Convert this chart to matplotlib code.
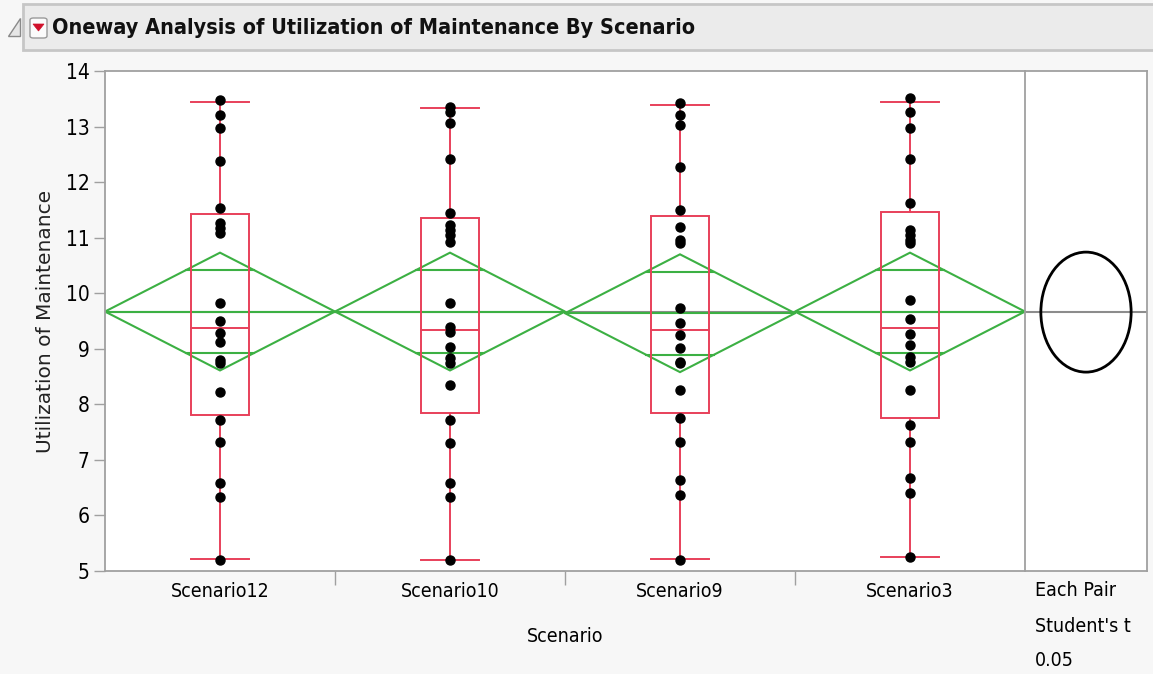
import numpy as np
import matplotlib.pyplot as plt
from matplotlib.patches import Rectangle, Ellipse, Polygon, FancyBboxPatch

# utilization values per scenario
scenarios = ['Scenario12', 'Scenario10', 'Scenario9', 'Scenario3']

util_s12 = [13.48, 13.21, 12.97, 12.38, 11.53, 11.26, 11.17, 11.08, 9.83, 9.50,
            9.28, 9.13, 8.80, 8.74, 8.23, 7.71, 7.33, 6.58, 6.34, 5.20]
util_s10 = [13.36, 13.27, 13.06, 12.42, 11.44, 11.23, 11.14, 11.05, 10.92, 9.83,
            9.40, 9.31, 9.04, 8.83, 8.74, 8.35, 7.71, 7.30, 6.58, 6.34, 5.20]
util_s9 = [13.42, 13.21, 13.03, 12.27, 11.50, 11.20, 10.96, 10.90, 9.73, 9.46,
           9.25, 9.01, 8.77, 8.74, 8.26, 7.75, 7.33, 6.64, 6.37, 5.20]
util_s3 = [13.51, 13.27, 12.97, 12.42, 11.63, 11.14, 11.05, 10.96, 10.90, 9.88,
           9.54, 9.27, 9.06, 8.86, 8.77, 8.26, 7.63, 7.33, 6.67, 6.40, 5.26]
points = [util_s12, util_s10, util_s9, util_s3]

# quantile box stats
q1 = [7.80, 7.84, 7.85, 7.75]
medians = [9.37, 9.34, 9.34, 9.37]
q3 = [11.43, 11.36, 11.39, 11.46]
whisk_lo = [5.21, 5.20, 5.21, 5.26]
whisk_hi = [13.45, 13.34, 13.38, 13.45]

# means diamonds (mean +/- 95% CI)
means = [9.67, 9.67, 9.64, 9.67]
ci_half = [1.06, 1.06, 1.06, 1.06]
grand_mean = 9.66
circle_radius = 1.08

W, H = 1153, 674
red = '#e8405a'
green = '#3cb043'
gray = '#a0a0a0'
cond = dict(family='DejaVu Sans', stretch='condensed')


def fx(x):
    return x / W


def fy(y):
    return 1 - y / H


fig = plt.figure(figsize=(W / 100, H / 100), dpi=100, facecolor='#f7f7f7')

# title bar with outline triangle and red menu button
fig.add_artist(Rectangle((fx(23), fy(50)), fx(1160 - 23), 46 / H, transform=fig.transFigure,
                         facecolor='#ebebeb', edgecolor='#c6c6c6', lw=2))
fig.add_artist(Polygon([(fx(8), fy(36)), (fx(20), fy(36)), (fx(20), fy(18))], closed=True,
                       transform=fig.transFigure, facecolor='#e6e6e6', edgecolor='#8a8a8a', lw=1))
fig.add_artist(FancyBboxPatch((fx(30), fy(38)), 17 / W, 20 / H, boxstyle='round,pad=0,rounding_size=0.003',
                              transform=fig.transFigure, facecolor='#fbfbfb', edgecolor='#9a9a9a', lw=1))
fig.add_artist(Polygon([(fx(33), fy(24)), (fx(44), fy(24)), (fx(38.5), fy(31))], closed=True,
                       transform=fig.transFigure, facecolor='#d0102a', edgecolor='#d0102a', lw=0.5))
fig.text(fx(52), fy(28), 'Oneway Analysis of Utilization of Maintenance By Scenario',
         fontsize=15.5, fontweight='bold', va='center', ha='left', color='#111111', **cond)

ax = fig.add_axes([fx(105), fy(571), fx(1025 - 105), 500 / H])
side = fig.add_axes([fx(1025), fy(571), fx(1147 - 1025), 500 / H], sharey=ax)

ax.set_xlim(0, 4)
ax.set_ylim(5, 14)
ax.axhline(grand_mean, color='#8c8c8c', lw=1.5, zorder=1)

bw = 0.124
for i, name in enumerate(scenarios):
    c = i + 0.5
    m, h = means[i], ci_half[i]
    # means diamond
    ax.add_patch(Polygon([(i, m), (c, m + h), (i + 1, m), (c, m - h)], closed=True,
                         fill=False, edgecolor=green, lw=1.5, zorder=2))
    ax.plot([i, i + 1], [m, m], color=green, lw=1.5, zorder=2)
    off = h * np.sqrt(2) / 2
    hw = 0.5 * (1 - np.sqrt(2) / 2)
    for s in (1, -1):
        ax.plot([c - hw, c + hw], [m + s * off, m + s * off], color=green, lw=1.5, zorder=2)
    # quantile box
    ax.add_patch(Rectangle((c - bw, q1[i]), 2 * bw, q3[i] - q1[i], fill=False,
                           edgecolor=red, lw=1.4, zorder=3))
    ax.plot([c - bw, c + bw], [medians[i], medians[i]], color=red, lw=1.4, zorder=3)
    ax.plot([c, c], [q3[i], whisk_hi[i]], color=red, lw=1.4, zorder=3)
    ax.plot([c, c], [whisk_lo[i], q1[i]], color=red, lw=1.4, zorder=3)
    for v in (whisk_lo[i], whisk_hi[i]):
        ax.plot([c - bw, c + bw], [v, v], color=red, lw=1.4, zorder=3)
    ax.plot([c] * len(points[i]), points[i], 'o', color='black', ms=6.5, zorder=4)

ax.set_yticks(range(5, 15))
ax.set_xticks([0.5, 1.5, 2.5, 3.5])
ax.set_xticklabels(scenarios, fontsize=14, **cond)
ax.set_xticks([1, 2, 3], minor=True)
ax.tick_params(axis='x', which='major', length=0, pad=8)
ax.tick_params(axis='x', which='minor', length=10, color=gray, width=1)
ax.tick_params(axis='y', length=8, color=gray, width=1, labelsize=15, pad=3)
for lab in ax.get_yticklabels():
    lab.set_fontstretch('condensed')
for sp in ax.spines.values():
    sp.set_color(gray)
    sp.set_linewidth(1.3)
ax.spines['right'].set_visible(False)
ax.set_ylabel('Utilization of Maintenance', fontsize=14.5, labelpad=8, color='#222222')

# comparison circle panel
side.set_xlim(0, 1)
side.axhline(grand_mean, color='#8c8c8c', lw=1.5, zorder=1)
side.add_patch(Ellipse((0.5, grand_mean), 0.74, 2 * circle_radius, fill=False,
                       edgecolor='black', lw=2, zorder=2))
side.set_xticks([])
side.tick_params(axis='y', left=False, labelleft=False)
for sp in side.spines.values():
    sp.set_color(gray)
    sp.set_linewidth(1.3)

fig.text(fx(565), fy(636), 'Scenario', fontsize=14, ha='center', va='center', **cond)
for k, t in enumerate(['Each Pair', "Student's t", '0.05']):
    fig.text(fx(1035), fy(591 + 35 * k), t, fontsize=14, ha='left', va='center', **cond)

fig.savefig('out.png', dpi=100, facecolor=fig.get_facecolor())
